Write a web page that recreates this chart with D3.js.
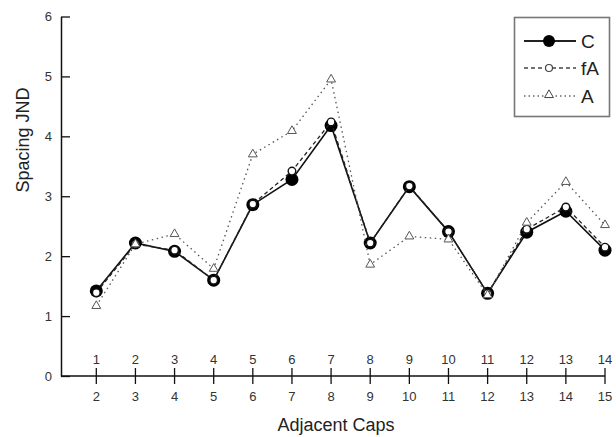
<!DOCTYPE html>
<html>
<head>
<meta charset="utf-8">
<script src="https://cdn.jsdelivr.net/npm/d3@7"></script>
<style>
  body { margin: 0; background: #fff; }
  text { font-family: "Liberation Sans", Arial, Helvetica, sans-serif; }
</style>
</head>
<body>
<div id="chart"></div>
<script>
const caps = [1, 2, 3, 4, 5, 6, 7, 8, 9, 10, 11, 12, 13, 14];
const capsNext = [2, 3, 4, 5, 6, 7, 8, 9, 10, 11, 12, 13, 14, 15];
const valuesC = [1.42, 2.22, 2.08, 1.6, 2.86, 3.28, 4.18, 2.22, 3.16, 2.41, 1.38, 2.4, 2.75, 2.1];
const valuesFA = [1.39, 2.2, 2.1, 1.6, 2.87, 3.42, 4.24, 2.22, 3.17, 2.41, 1.38, 2.45, 2.82, 2.15];
const valuesA = [1.17, 2.2, 2.37, 1.79, 3.7, 4.09, 4.95, 1.86, 2.33, 2.28, 1.35, 2.56, 3.24, 2.52];
const yTicks = [0, 1, 2, 3, 4, 5, 6];

const width = 616, height = 437;

const svg = d3.select("#chart").append("svg")
  .attr("width", width)
  .attr("height", height);

const x = d3.scaleLinear().domain([1, 14]).range([96.3, 605]);
const y = d3.scaleLinear().domain([0, 6]).range([376, 16.5]);
const axisLeft = 61;

// y axis, ticks pointing inward
const yAxis = svg.append("g")
  .attr("transform", `translate(${axisLeft},0)`)
  .call(d3.axisRight(y).tickValues(yTicks).tickSize(9).tickSizeOuter(0).tickFormat(d3.format("d")));
yAxis.select(".domain").attr("stroke", "#111").attr("stroke-width", 1.5);
yAxis.selectAll(".tick line").attr("stroke", "#111").attr("stroke-width", 1.3);
yAxis.selectAll(".tick text")
  .attr("x", -9).attr("text-anchor", "end")
  .attr("font-size", 13).attr("fill", "#333");

// x axis: line with crossing ticks
svg.append("line")
  .attr("x1", axisLeft).attr("x2", x(14))
  .attr("y1", y(0)).attr("y2", y(0))
  .attr("stroke", "#111").attr("stroke-width", 1.5);

const xt = svg.append("g").selectAll("g")
  .data(caps)
  .join("g")
  .attr("transform", d => `translate(${x(d)},${y(0)})`);
xt.append("line")
  .attr("y1", -8).attr("y2", 8)
  .attr("stroke", "#111").attr("stroke-width", 1.3);
xt.append("text")
  .attr("y", -12).attr("text-anchor", "middle")
  .attr("font-size", 13).attr("fill", "#333")
  .text(d => d);
xt.append("text")
  .attr("y", 25).attr("text-anchor", "middle")
  .attr("font-size", 13).attr("fill", "#333")
  .text((d, i) => capsNext[i]);

// axis titles
svg.append("text")
  .attr("x", 336).attr("y", 431)
  .attr("text-anchor", "middle")
  .attr("font-size", 18).attr("fill", "#222")
  .text("Adjacent Caps");
svg.append("text")
  .attr("transform", "translate(29,140) rotate(-90)")
  .attr("text-anchor", "middle")
  .attr("font-size", 18).attr("fill", "#222")
  .text("Spacing JND");

const line = d3.line().x((d, i) => x(caps[i])).y(d => y(d));

// C series
svg.append("path")
  .datum(valuesC)
  .attr("d", line)
  .attr("fill", "none").attr("stroke", "#111").attr("stroke-width", 1.6);
svg.append("g").selectAll("circle")
  .data(valuesC)
  .join("circle")
  .attr("cx", (d, i) => x(caps[i])).attr("cy", d => y(d))
  .attr("r", 6.5).attr("fill", "#000");

// fA series
svg.append("path")
  .datum(valuesFA)
  .attr("d", line)
  .attr("fill", "none").attr("stroke", "#222").attr("stroke-width", 1.3)
  .attr("stroke-dasharray", "4,3");
svg.append("g").selectAll("circle")
  .data(valuesFA)
  .join("circle")
  .attr("cx", (d, i) => x(caps[i])).attr("cy", d => y(d))
  .attr("r", 3.8).attr("fill", "#fff")
  .attr("stroke", "#111").attr("stroke-width", 1.4);

// A series
const tri = d3.symbol().type(d3.symbolTriangle).size(34);
svg.append("path")
  .datum(valuesA)
  .attr("d", line)
  .attr("fill", "none").attr("stroke", "#555").attr("stroke-width", 1.3)
  .attr("stroke-dasharray", "1.5,3.5");
svg.append("g").selectAll("path")
  .data(valuesA)
  .join("path")
  .attr("d", tri)
  .attr("transform", (d, i) => `translate(${x(caps[i])},${y(d)})`)
  .attr("fill", "#fff").attr("stroke", "#555").attr("stroke-width", 1);

// legend
const legend = svg.append("g");
legend.append("rect")
  .attr("x", 514.5).attr("y", 17.5).attr("width", 95).attr("height", 99)
  .attr("fill", "#fff").attr("stroke", "#777").attr("stroke-width", 1.6);

const legendItems = [
  { name: "C", dash: null, color: "#222", ly: 41 },
  { name: "fA", dash: "4,3", color: "#444", ly: 68 },
  { name: "A", dash: "1.5,3", color: "#666", ly: 96 }
];
legendItems.forEach(it => {
  legend.append("line")
    .attr("x1", 524).attr("x2", 576).attr("y1", it.ly).attr("y2", it.ly)
    .attr("stroke", it.color).attr("stroke-width", it.name === "C" ? 2 : 1.4)
    .attr("stroke-dasharray", it.dash);
  legend.append("text")
    .attr("x", 581).attr("y", it.ly + 7)
    .attr("font-size", 19).attr("fill", "#222")
    .text(it.name);
});
legend.append("circle").attr("cx", 549).attr("cy", 41).attr("r", 6).attr("fill", "#000");
legend.append("circle").attr("cx", 549).attr("cy", 68).attr("r", 3.5)
  .attr("fill", "#fff").attr("stroke", "#444").attr("stroke-width", 1.2);
legend.append("path").attr("d", tri)
  .attr("transform", "translate(549,95)")
  .attr("fill", "#fff").attr("stroke", "#444").attr("stroke-width", 1);
</script>
</body>
</html>
